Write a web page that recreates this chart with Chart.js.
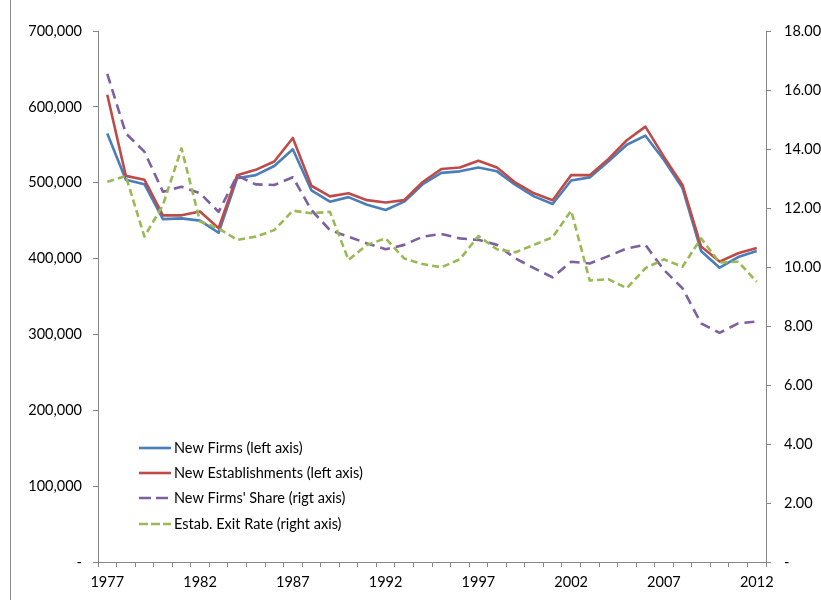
<!DOCTYPE html>
<html>
<head>
<meta charset="utf-8">
<script src="https://cdn.jsdelivr.net/npm/chart.js@4"></script>
<style>
  html, body { margin: 0; padding: 0; background: #fff; }
  #wrap { position: relative; width: 821px; height: 600px; }
  #frame { position: absolute; left: 10px; top: 0; bottom: 0; border-left: 1px solid #8c8c8c; }
  canvas { position: absolute; left: 0; top: 0; }
</style>
</head>
<body>
<div id="wrap">
  <div id="frame"></div>
  <canvas id="chart" width="821" height="600"></canvas>
</div>
<script>
// Business formation, 1977-2012
const years = [
  1977, 1978, 1979, 1980, 1981, 1982, 1983, 1984, 1985, 1986, 1987, 1988,
  1989, 1990, 1991, 1992, 1993, 1994, 1995, 1996, 1997, 1998, 1999, 2000,
  2001, 2002, 2003, 2004, 2005, 2006, 2007, 2008, 2009, 2010, 2011, 2012
];

// left axis
const newFirms = [
  565000, 504000, 498000, 452000, 453000, 450000, 434000, 506000, 510000, 522000, 544000, 490000,
  475000, 481000, 471000, 464000, 475000, 498000, 513000, 515000, 520000, 515000, 497000, 482000,
  472000, 503000, 507000, 528000, 550000, 562000, 530000, 493000, 410000, 388000, 402000, 410000
];
const newEstablishments = [
  616000, 509000, 504000, 457000, 457000, 462000, 440000, 510000, 517000, 528000, 559000, 496000,
  482000, 486000, 477000, 474000, 477000, 501000, 518000, 520000, 529000, 520000, 500000, 486000,
  477000, 510000, 510000, 531000, 556000, 574000, 534000, 497000, 416000, 396000, 407000, 414000
];

// right axis
const newFirmsShare = [
  16.55, 14.53, 13.91, 12.55, 12.72, 12.50, 11.87, 13.10, 12.80, 12.78, 13.04, 11.93,
  11.25, 11.03, 10.80, 10.60, 10.75, 11.03, 11.12, 10.97, 10.92, 10.75, 10.29, 9.96,
  9.65, 10.18, 10.12, 10.37, 10.63, 10.75, 9.90, 9.28, 8.09, 7.77, 8.09, 8.15
];
const estabExitRate = [
  12.89, 13.08, 11.03, 12.10, 14.02, 11.54, 11.31, 10.92, 11.03, 11.25, 11.91, 11.82,
  11.87, 10.24, 10.75, 10.97, 10.29, 10.10, 9.99, 10.26, 11.05, 10.60, 10.50, 10.75,
  11.01, 11.91, 9.54, 9.59, 9.28, 9.96, 10.26, 10.01, 10.97, 10.15, 10.18, 9.50
];

const seriesNames = [
  'New Firms (left axis)',
  'New Establishments (left axis)',
  "New Firms' Share (rigt axis)",
  'Estab. Exit Rate (right axis)'
];

const FONT = 'Lato, "Open Sans", sans-serif';
const AXIS_GREY = '#868686';

// legend box sitting inside the plot, lower left
const insideLegend = {
  id: 'insideLegend',
  afterDraw(chart) {
    const ctx = chart.ctx;
    const rows = [448, 473, 498, 524];
    ctx.save();
    ctx.font = '14.5px ' + FONT;
    ctx.textBaseline = 'middle';
    ctx.fillStyle = '#000';
    chart.data.datasets.forEach(function (ds, i) {
      const y = rows[i];
      ctx.beginPath();
      ctx.strokeStyle = ds.borderColor;
      ctx.lineWidth = ds.borderWidth;
      ctx.setLineDash(ds.legendDash || []);
      ctx.moveTo(139, y);
      ctx.lineTo(171, y);
      ctx.stroke();
      ctx.setLineDash([]);
      ctx.fillText(ds.label, 174, y);
    });
    ctx.restore();
  }
};

Chart.defaults.font.family = FONT;
Chart.defaults.font.size = 14.5;
Chart.defaults.color = '#000';

new Chart(document.getElementById('chart'), {
  type: 'line',
  data: {
    labels: years,
    datasets: [
      {
        label: seriesNames[0], data: newFirms, yAxisID: 'yLeft',
        borderColor: '#4a7ebb', borderWidth: 2.6, order: 4
      },
      {
        label: seriesNames[1], data: newEstablishments, yAxisID: 'yLeft',
        borderColor: '#be4b48', borderWidth: 2.6, order: 3
      },
      {
        label: seriesNames[2], data: newFirmsShare, yAxisID: 'yRight',
        borderColor: '#7d60a0', borderWidth: 2.6, borderDash: [10, 6], legendDash: [12, 5], order: 2
      },
      {
        label: seriesNames[3], data: estabExitRate, yAxisID: 'yRight',
        borderColor: '#98b954', borderWidth: 2.6, borderDash: [7, 4], legendDash: [9, 3], order: 1
      }
    ]
  },
  options: {
    responsive: false,
    animation: false,
    events: [],
    layout: { padding: { top: 31, left: 0, right: 0, bottom: 0 } },
    elements: {
      point: { radius: 0 },
      line: { tension: 0, borderJoinStyle: 'round', borderCapStyle: 'butt', fill: false }
    },
    plugins: {
      legend: { display: false },
      tooltip: { enabled: false }
    },
    scales: {
      x: {
        offset: true,
        grid: { offset: true, drawOnChartArea: false, drawTicks: true, tickLength: 5, color: AXIS_GREY },
        border: { color: AXIS_GREY, width: 1 },
        ticks: {
          autoSkip: false, maxRotation: 0, padding: 7,
          callback: function (v, i) { return (years[i] - 1977) % 5 === 0 ? String(years[i]) : ''; }
        },
        afterFit: function (s) { s.height = 38; }
      },
      yLeft: {
        position: 'left', min: 0, max: 700000,
        grid: { drawOnChartArea: false, tickLength: 5, color: AXIS_GREY },
        border: { color: AXIS_GREY, width: 1 },
        ticks: {
          stepSize: 100000, padding: 11,
          callback: function (v) { return v === 0 ? '-' : v.toLocaleString('en-US'); }
        },
        afterFit: function (s) { s.width = 98; }
      },
      yRight: {
        position: 'right', min: 0, max: 18,
        grid: { drawOnChartArea: false, tickLength: 5, color: AXIS_GREY },
        border: { color: AXIS_GREY, width: 1 },
        ticks: {
          stepSize: 2, padding: 13,
          callback: function (v) { return v === 0 ? '-' : v.toFixed(2); }
        },
        afterFit: function (s) { s.width = 55; }
      }
    }
  },
  plugins: [insideLegend]
});
</script>
</body>
</html>
